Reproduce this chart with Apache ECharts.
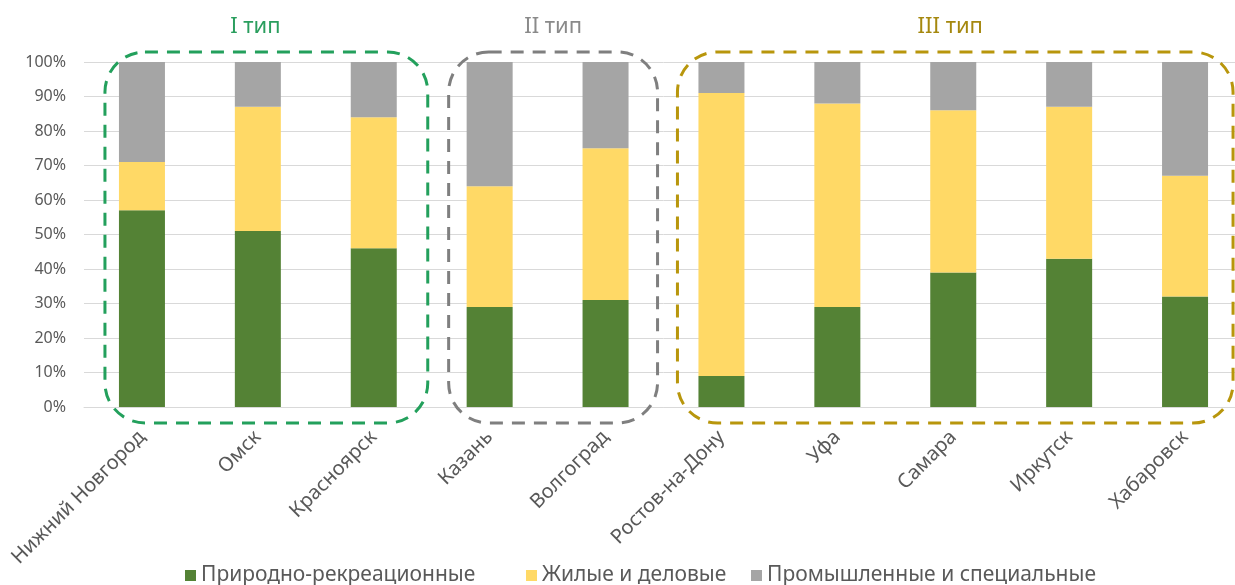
<!DOCTYPE html>
<html>
<head>
<meta charset="utf-8">
<script src="https://cdn.jsdelivr.net/npm/echarts@6/dist/echarts.min.js"></script>
<style>
html,body{margin:0;padding:0;background:#fff;overflow:hidden;}
#chart{width:1250px;height:585px;}
</style>
</head>
<body>
<div id="chart"></div>
<script>
var categories = ['Нижний Новгород','Омск','Красноярск','Казань','Волгоград','Ростов-на-Дону','Уфа','Самара','Иркутск','Хабаровск'];
var natural = [57,51,46,29,31,9,29,39,43,32];
var residential = [14,36,38,35,44,82,59,47,44,35];
var industrial = [29,13,16,36,25,9,12,14,13,33];
var seriesNames = ['Природно-рекреационные','Жилые и деловые','Промышленные и специальные'];
var yTicks = [0,10,20,30,40,50,60,70,80,90,100];
var groups = [
  {title:'I тип', first:0, last:2, color:'#23a05c', titleColor:'#2a9e5e', padL:37, padR:54, titleShift:-11},
  {title:'II тип', first:3, last:4, color:'#7f7f7f', titleColor:'#8a8a8a', padL:41, padR:52, titleShift:0},
  {title:'III тип', first:5, last:9, color:'#b8960c', titleColor:'#a5880f', padL:44, padR:48, titleShift:-5}
];

var FONT = 'Noto Sans';
var legendLefts = [180, 521, 746];
var legendStyle = {color:'#595959', fontSize:21, fontFamily:FONT};
var chart = echarts.init(document.getElementById('chart'));
var option = {
  animation:false,
  textStyle:{fontFamily:FONT},
  grid:{left:84, top:62, right:7, bottom:178, containLabel:false},
  legend:seriesNames.map(function(n, i){
    return {top:560, left:legendLefts[i], itemWidth:11, itemHeight:11, icon:'rect', textStyle:legendStyle, data:[n]};
  }),
  xAxis:{
    type:'category',
    data:categories,
    axisLine:{show:true, lineStyle:{color:'#d9d9d9'}},
    axisTick:{show:false},
    axisLabel:{interval:0, rotate:45, color:'#595959', fontSize:20, margin:27, fontFamily:FONT}
  },
  yAxis:{
    type:'value', min:yTicks[0], max:yTicks[yTicks.length-1], interval:10,
    axisLine:{show:false}, axisTick:{show:false},
    splitLine:{lineStyle:{color:'#d9d9d9', width:1}},
    axisLabel:{formatter:'{value}%', color:'#595959', fontSize:16, margin:18, fontFamily:FONT}
  },
  series:[
    {name:seriesNames[0], type:'bar', stack:'s', barWidth:46, data:natural, itemStyle:{color:'#548235'}},
    {name:seriesNames[1], type:'bar', stack:'s', barWidth:46, data:residential, itemStyle:{color:'#ffd966'}},
    {name:seriesNames[2], type:'bar', stack:'s', barWidth:46, data:industrial, itemStyle:{color:'#a5a5a5'}}
  ]
};
chart.setOption(option);

function buildGraphics(){
  var yTop = chart.convertToPixel({yAxisIndex:0}, 100);
  var yBot = chart.convertToPixel({yAxisIndex:0}, 0);
  var els = [];
  groups.forEach(function(g){
    var x1 = chart.convertToPixel({xAxisIndex:0}, categories[g.first]) - g.padL;
    var x2 = chart.convertToPixel({xAxisIndex:0}, categories[g.last]) + g.padR;
    var top = yTop - 10, bot = yBot + 16;
    els.push({
      type:'rect', silent:true, z:10,
      shape:{x:x1, y:top, width:x2-x1, height:bot-top, r:40},
      style:{fill:'none', stroke:g.color, lineWidth:3, lineDash:[13,9]}
    });
    els.push({
      type:'text', silent:true, z:10,
      x:(x1+x2)/2 + g.titleShift, y:top - 25,
      style:{text:g.title, fill:g.titleColor, font:'22px "'+FONT+'"', textAlign:'center', textVerticalAlign:'middle'}
    });
  });
  chart.setOption({graphic:{elements:els}});
}
buildGraphics();
</script>
</body>
</html>
